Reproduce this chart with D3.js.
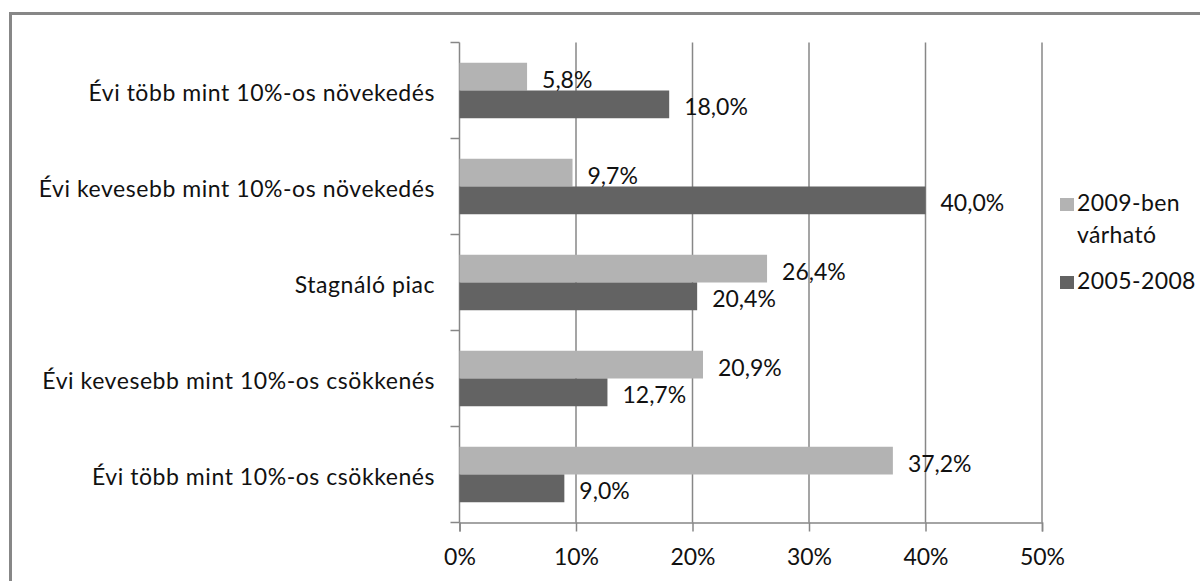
<!DOCTYPE html>
<html>
<head>
<meta charset="utf-8">
<script src="https://cdn.jsdelivr.net/npm/d3@7"></script>
<style>
  html, body { margin: 0; padding: 0; background: #fff; }
  svg { display: block; font-family: Lato, "Open Sans", sans-serif; }
</style>
</head>
<body>
<svg id="chart" width="1200" height="581"></svg>
<script>
const categories = [
  "Évi több mint 10%-os növekedés",
  "Évi kevesebb mint 10%-os növekedés",
  "Stagnáló piac",
  "Évi kevesebb mint 10%-os csökkenés",
  "Évi több mint 10%-os csökkenés"
];
const seriesNames = ["2009-ben várható", "2005-2008"];
const legendLines = [["2009-ben", "várható"], ["2005-2008"]];
const values2009 = [5.8, 9.7, 26.4, 20.9, 37.2];
const values2005 = [18.0, 40.0, 20.4, 12.7, 9.0];
const xTicks = [0, 10, 20, 30, 40, 50];
const colors = ["#b3b3b3", "#636363"];

const svg = d3.select("#chart");
const fs = 23;
const textColor = "#111";

// outer border
svg.append("rect")
  .attr("x", 10.5).attr("y", 13.5)
  .attr("width", 1300).attr("height", 700)
  .attr("fill", "none").attr("stroke", "#878787").attr("stroke-width", 3);

const x = d3.scaleLinear().domain([0, 50]).range([459.5, 1042]);
const y = d3.scaleBand().domain(categories).range([42.5, 522.5]).paddingInner(0).paddingOuter(0);
const y1 = d3.scaleBand().domain(seriesNames).range([0, y.bandwidth()]).paddingInner(0).paddingOuter(0.73);

const gridColor = "#878787";

// gridlines
svg.append("g").selectAll("line")
  .data(xTicks.filter(d => d > 0))
  .join("line")
  .attr("x1", d => x(d)).attr("x2", d => x(d))
  .attr("y1", y.range()[0]).attr("y2", y.range()[1])
  .attr("stroke", gridColor).attr("stroke-width", 1.5);

// x axis
const xAxis = d3.axisBottom(x).tickValues(xTicks).tickFormat(d => d + "%").tickSize(9).tickPadding(17);
const gx = svg.append("g").attr("transform", `translate(0,${y.range()[1]})`).call(xAxis);
gx.select(".domain").attr("stroke", gridColor).attr("stroke-width", 1.5);
gx.selectAll(".tick line").attr("stroke", gridColor).attr("stroke-width", 1.5);
gx.selectAll(".tick text").attr("font-size", fs).attr("font-family", "Lato").attr("fill", textColor);

// y axis (category labels)
const boundaries = categories.map(c => y(c)).concat([y.range()[1]]);
svg.append("line")
  .attr("x1", x(0)).attr("x2", x(0))
  .attr("y1", y.range()[0]).attr("y2", y.range()[1])
  .attr("stroke", gridColor).attr("stroke-width", 1.5);
svg.append("g").selectAll("line")
  .data(boundaries)
  .join("line")
  .attr("x1", x(0) - 9).attr("x2", x(0))
  .attr("y1", d => d).attr("y2", d => d)
  .attr("stroke", gridColor).attr("stroke-width", 1.5);

svg.append("g").selectAll("text")
  .data(categories)
  .join("text")
  .attr("x", 435)
  .attr("y", d => y(d) + y.bandwidth() / 2 + 1)
  .attr("text-anchor", "end")
  .attr("dominant-baseline", "central")
  .attr("font-size", fs)
  .attr("letter-spacing", 0.55)
  .attr("fill", textColor)
  .text(d => d);

// bars
const rows = categories.map((c, i) => ({ cat: c, vals: [values2009[i], values2005[i]] }));
const fmt = v => d3.format(".1f")(v).replace(".", ",") + "%";

const groups = svg.append("g").selectAll("g")
  .data(rows)
  .join("g")
  .attr("transform", d => `translate(0,${y(d.cat)})`);

groups.selectAll("rect")
  .data(d => d.vals.map((v, j) => ({ v, s: seriesNames[j], j })))
  .join("rect")
  .attr("x", x(0))
  .attr("y", d => y1(d.s))
  .attr("width", d => x(d.v) - x(0))
  .attr("height", y1.bandwidth())
  .attr("fill", d => colors[d.j]);

groups.selectAll("text")
  .data(d => d.vals.map((v, j) => ({ v, s: seriesNames[j], j })))
  .join("text")
  .attr("x", d => x(d.v) + 15)
  .attr("y", d => y1(d.s) + y1.bandwidth() / 2 + 2)
  .attr("dominant-baseline", "central")
  .attr("font-size", fs)
  .attr("fill", textColor)
  .text(d => fmt(d.v));

// legend
const legendY = [198, 276];
const lg = svg.append("g");
seriesNames.forEach((s, i) => {
  lg.append("rect")
    .attr("x", 1060).attr("y", legendY[i])
    .attr("width", 14).attr("height", 13)
    .attr("fill", colors[i]);
  const t = lg.append("text")
    .attr("x", 1077).attr("y", legendY[i] + 13)
    .attr("font-size", fs).attr("letter-spacing", 0.4).attr("fill", textColor);
  legendLines[i].forEach((line, k) => {
    t.append("tspan").attr("x", 1077).attr("dy", k === 0 ? 0 : 32).text(line);
  });
});
</script>
</body>
</html>
